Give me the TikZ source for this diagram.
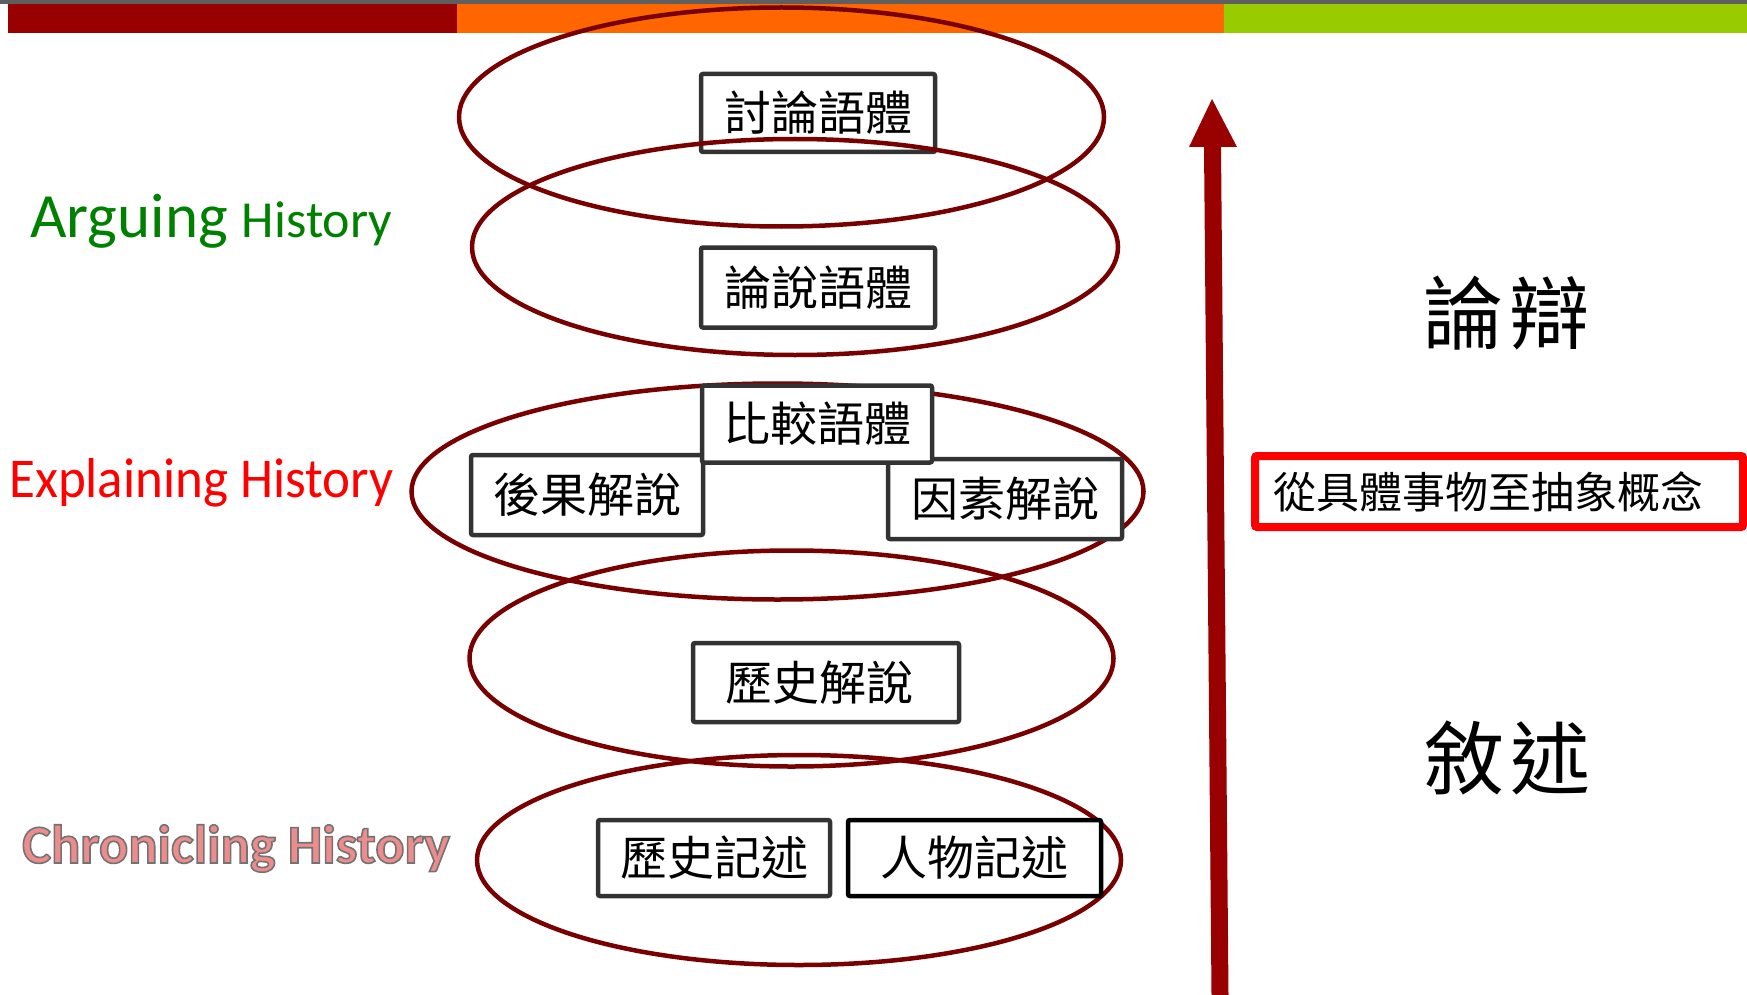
\documentclass[tikz,border=0pt]{standalone}
\usepackage{fontspec}
\setmainfont{Carlito}
\newfontfamily\cjk{Noto Sans CJK TC}
\usetikzlibrary{shapes.geometric}
\definecolor{topgray}{RGB}{95,95,95}
\definecolor{barred}{RGB}{153,0,0}
\definecolor{barorange}{RGB}{255,102,0}
\definecolor{bargreen}{RGB}{153,204,0}
\definecolor{ellred}{RGB}{120,0,0}
\definecolor{boxgray}{RGB}{51,51,51}
\definecolor{arggreen}{RGB}{0,128,0}
\definecolor{chronpink}{RGB}{236,140,140}
\tikzset{
  ell/.style={draw=ellred, line width=4.5pt, ellipse, inner sep=0pt},
  gbox/.style={draw=boxgray, line width=4.5pt, fill=white, rounded corners=2pt,
    inner sep=0pt, font=\cjk\fontsize{47pt}{47pt}\selectfont},
  lbl/.style={inner sep=0pt, anchor=base west},
}
\begin{document}
\begin{tikzpicture}[x=1pt,y=-1pt]
\useasboundingbox (0,0) rectangle (1747,995);
% top bars
\fill[topgray] (0,0) rectangle (1747,4);
\fill[barred] (8,4) rectangle (457,33);
\fill[barorange] (457,4) rectangle (1224,33);
\fill[bargreen] (1224,4) rectangle (1747,33);
% level 1
\node[ell, minimum width=645pt, minimum height=219pt] (e1) at (781.5,117) {};
\node[gbox, minimum width=234pt, minimum height=78pt] (b1) at (818,113) {討論語體};
% level 2
\node[ell, minimum width=646pt, minimum height=216pt] (e2) at (795,247) {};
\node[gbox, minimum width=234pt, minimum height=80pt] (b2) at (818,287.5) {論說語體};
% level 3
\node[ell, minimum width=732pt, minimum height=216pt] (e3) at (777.5,491.5) {};
\node[gbox, minimum width=232pt, minimum height=80pt] (b4) at (587,495) {後果解說};
\node[gbox, minimum width=234pt, minimum height=80pt] (b5) at (1005,499) {因素解說};
\node[gbox, minimum width=230pt, minimum height=77pt] (b3) at (817,424) {比較語體};
% level 4
\node[ell, minimum width=644pt, minimum height=216pt] (e4) at (791.5,658.5) {};
\node[gbox, minimum width=266pt, minimum height=79pt] (b6) at (826,682.5) {\hspace*{-14pt}歷史解說};
% level 5
\node[ell, minimum width=644pt, minimum height=210pt] (e5) at (799,860) {};
\node[gbox, minimum width=232pt, minimum height=76pt] (b7) at (714,858) {歷史記述};
\node[gbox, draw=black, minimum width=253pt, minimum height=76pt] (b8) at (974.5,858) {人物記述};
% left labels
\node[lbl, text=arggreen] (arg) at (30,237) {\fontsize{63pt}{63pt}\selectfont Arguing \fontsize{52pt}{52pt}\selectfont History};
\node[lbl, text=red, yscale=1.06] (exp) at (9,497) {\fontsize{53pt}{53pt}\selectfont Explaining History};
\node[lbl] (chr) at (22,863) {\fontsize{54.5pt}{54.5pt}\selectfont\bfseries\color{chronpink}%
  \special{pdf:literal direct 2 Tr 1.6 w 0.45 0.45 0.45 RG}Chronicling History\special{pdf:literal direct 0 Tr}};
% arrow
\coordinate (abot) at (1220,995);
\coordinate (atip) at (1212,99);
\fill[barred] (1211.5,995) -- (1228.5,995) -- (1221,147) -- (1237,147) -- (atip)
  -- (1189,147) -- (1204,147) -- cycle;
% right labels
\node[inner sep=0pt, font=\cjk\fontsize{80pt}{80pt}\selectfont] (lunbian) at (1506,313) {論\hspace{6pt}辯};
\node[inner sep=0pt, font=\cjk\fontsize{80pt}{80pt}\selectfont] (xushu) at (1507,758) {敘\hspace{6pt}述};
\node[draw=red, line width=8pt, rounded corners=2pt, minimum width=488pt, minimum height=71pt, inner sep=0pt] (rbox) at (1499,491.5) {};
\node[inner sep=0pt, anchor=west, font=\cjk\fontsize{43pt}{43pt}\selectfont] (concept) at (1273,492) {從具體事物至抽象概念};
\end{tikzpicture}
\end{document}
